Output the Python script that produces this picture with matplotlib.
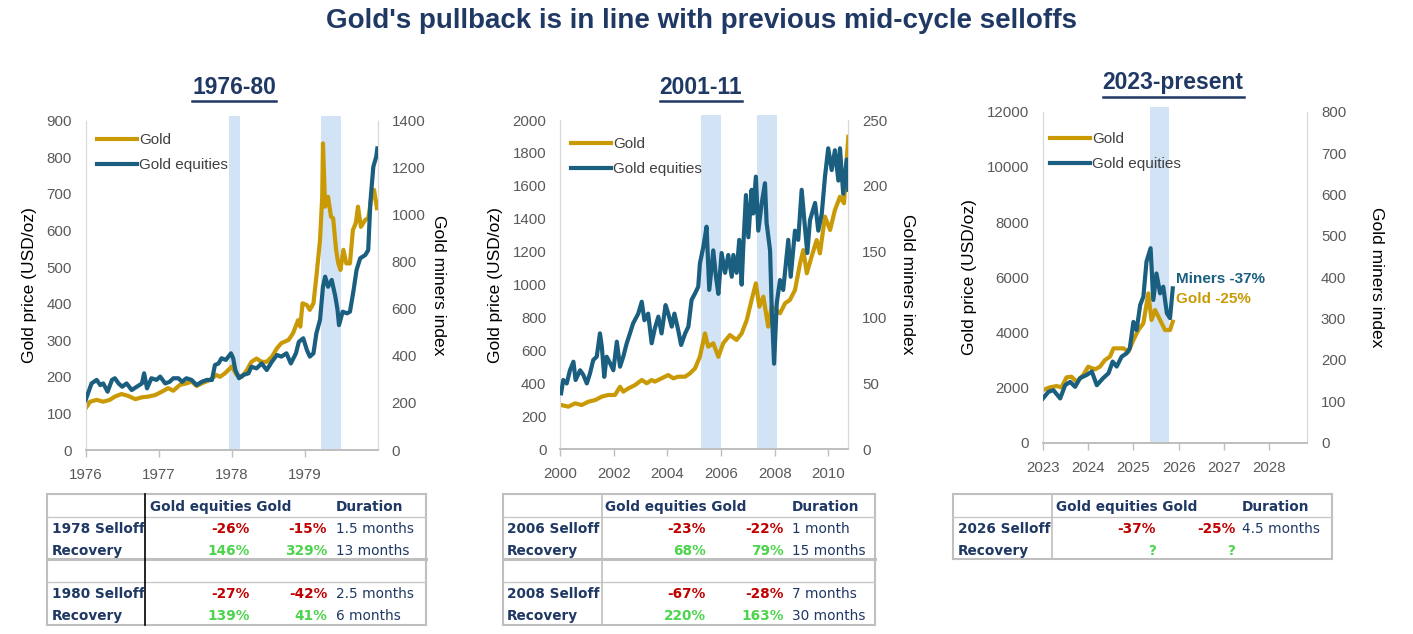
import matplotlib
matplotlib.use("Agg")
import matplotlib.pyplot as plt
from matplotlib.lines import Line2D

# ---------------- data ----------------
left_gold = [(1976.00,114),(1976.06,132),(1976.15,137),(1976.24,132),(1976.33,137),(1976.40,146),
             (1976.49,153),(1976.58,148),(1976.68,139),(1976.77,144),(1976.86,146),(1976.95,150),
             (1977.04,159),(1977.13,169),(1977.20,162),(1977.29,178),(1977.38,182),(1977.45,187),
             (1977.52,175),(1977.61,184),(1977.70,191),(1977.79,205),(1977.84,200),(1977.91,210),
             (1978.00,228),(1978.07,205),(1978.14,200),(1978.21,219),(1978.27,241),(1978.34,250),
             (1978.41,241),(1978.48,241),(1978.55,255),(1978.62,278),(1978.68,292),(1978.78,301),
             (1978.84,319),(1978.91,355),(1978.94,337),(1978.97,401),(1979.03,396),(1979.07,383),
             (1979.12,401),(1979.16,474),(1979.21,574),(1979.24,692),(1979.25,838),(1979.28,665),
             (1979.32,692),(1979.36,638),(1979.39,633),(1979.43,547),(1979.46,510),(1979.49,492),
             (1979.53,547),(1979.57,510),(1979.62,510),(1979.66,601),(1979.70,620),(1979.73,665),
             (1979.77,610),(1979.83,629),(1979.87,633),(1979.92,697),(1979.95,711),(1979.99,661)]
left_eq = [(1976.00,213),(1976.04,248),(1976.08,283),(1976.15,298),(1976.20,276),(1976.24,283),
           (1976.30,248),(1976.36,298),(1976.40,305),(1976.45,283),(1976.50,269),(1976.56,283),
           (1976.63,255),(1976.70,269),(1976.77,283),(1976.80,326),(1976.84,262),(1976.90,305),
           (1976.97,298),(1977.02,312),(1977.09,283),(1977.15,290),(1977.20,305),(1977.27,305),
           (1977.32,290),(1977.38,305),(1977.45,298),(1977.52,276),(1977.59,290),(1977.66,298),
           (1977.73,298),(1977.77,361),(1977.82,368),(1977.86,390),(1977.92,383),(1977.99,411),
           (1978.02,390),(1978.05,340),(1978.10,305),(1978.16,319),(1978.23,326),(1978.27,354),
           (1978.34,347),(1978.41,368),(1978.48,340),(1978.55,375),(1978.62,404),(1978.68,397),
           (1978.75,411),(1978.81,368),(1978.88,411),(1978.92,460),(1978.98,475),(1979.03,425),
           (1979.07,397),(1979.12,411),(1979.16,496),(1979.21,553),(1979.25,694),(1979.28,737),
           (1979.32,694),(1979.37,723),(1979.42,652),(1979.45,595),(1979.47,531),(1979.52,588),
           (1979.58,581),(1979.62,588),(1979.67,680),(1979.71,765),(1979.76,815),(1979.83,829),
           (1979.87,850),(1979.90,1055),(1979.94,1204),(1979.98,1247),(1979.995,1282)]

mid_gold = [(2000.03,269),(2000.30,259),(2000.55,279),(2000.80,269),(2001.05,289),(2001.30,299),
            (2001.55,320),(2001.79,330),(2002.04,330),(2002.23,380),(2002.35,350),(2002.54,370),
            (2002.79,390),(2003.04,421),(2003.23,401),(2003.41,421),(2003.53,411),(2003.78,431),
            (2004.03,451),(2004.22,431),(2004.40,441),(2004.66,441),(2004.84,461),(2005.03,492),
            (2005.21,562),(2005.40,704),(2005.52,623),(2005.71,644),(2005.90,562),(2006.08,644),
            (2006.33,694),(2006.58,664),(2006.77,704),(2006.96,785),(2007.14,907),(2007.30,1008),
            (2007.43,866),(2007.58,927),(2007.70,805),(2007.76,745),(2007.89,866),(2008.20,826),
            (2008.39,887),(2008.57,907),(2008.76,967),(2008.95,1130),(2009.07,1210),(2009.20,1069),
            (2009.38,1170),(2009.57,1271),(2009.69,1190),(2009.88,1413),(2010.07,1332),(2010.25,1453),
            (2010.44,1534),(2010.59,1494),(2010.69,1757),(2010.75,1898)]
mid_eq = [(2000.03,42.5),(2000.11,52.6),(2000.24,50.0),(2000.36,60.0),(2000.49,66.5),(2000.57,52.6),
          (2000.74,60.0),(2000.86,56.4),(2000.99,50.0),(2001.11,57.7),(2001.23,67.8),(2001.36,70.3),
          (2001.48,88.0),(2001.55,78.0),(2001.64,55.0),(2001.73,70.3),(2001.86,65.3),(2001.98,60.0),
          (2002.11,81.7),(2002.23,62.7),(2002.35,70.3),(2002.48,80.5),(2002.60,88.0),(2002.72,95.7),
          (2002.91,103.0),(2003.04,112.0),(2003.14,98.0),(2003.28,103.0),(2003.41,80.5),(2003.53,91.9),
          (2003.66,100.7),(2003.78,88.0),(2003.93,109.5),(2004.03,103.0),(2004.16,93.1),(2004.26,103.0),
          (2004.40,90.6),(2004.51,79.2),(2004.66,88.0),(2004.78,93.1),(2004.90,113.4),(2005.03,118.4),
          (2005.15,123.5),(2005.21,141.0),(2005.34,153.8),(2005.46,169.0),(2005.56,121.0),(2005.71,151.0),
          (2005.81,131.0),(2005.90,118.0),(2006.02,149.0),(2006.15,134.0),(2006.27,147.5),(2006.40,131.0),
          (2006.46,147.5),(2006.58,134.0),(2006.68,159.0),(2006.77,125.0),(2006.83,154.0),(2006.93,193.0),
          (2007.02,161.0),(2007.14,197.0),(2007.20,179.0),(2007.30,207.0),(2007.39,166.0),(2007.52,187.0),
          (2007.64,202.0),(2007.70,172.0),(2007.83,151.0),(2007.89,108.0),(2007.98,65.0),(2008.08,111.0),
          (2008.20,128.5),(2008.32,121.0),(2008.51,159.0),(2008.60,131.0),(2008.76,166.0),(2008.88,159.0),
          (2009.01,197.0),(2009.13,169.0),(2009.22,149.0),(2009.32,174.0),(2009.51,187.0),(2009.63,166.0),
          (2009.76,179.0),(2009.88,207.0),(2010.00,228.5),(2010.13,212.0),(2010.25,227.0),(2010.38,204.0),
          (2010.44,228.5),(2010.56,194.0),(2010.69,220.0),(2010.75,197.0)]

right_gold = [(2023.00,1909),(2023.15,2006),(2023.30,2054),(2023.41,2006),(2023.52,2369),(2023.63,2393),
              (2023.74,2211),(2023.89,2453),(2024.00,2755),(2024.15,2659),(2024.26,2755),(2024.37,2997),
              (2024.48,3118),(2024.56,3420),(2024.67,3420),(2024.78,3420),(2024.89,3299),(2025.00,3722),
              (2025.11,4085),(2025.22,4326),(2025.33,5414),(2025.40,4447),(2025.48,4810),(2025.59,4447),
              (2025.70,4085),(2025.81,4085),(2025.87,4387)]
right_eq = [(2023.00,107),(2023.12,123),(2023.23,127),(2023.38,107),(2023.49,139),(2023.60,147),
            (2023.71,135),(2023.82,156),(2023.97,164),(2024.08,172),(2024.19,139),(2024.33,156),
            (2024.45,168),(2024.54,196),(2024.63,184),(2024.74,208),(2024.85,216),(2024.92,228),
            (2025.00,292),(2025.07,272),(2025.15,333),(2025.22,353),(2025.29,438),(2025.38,470),
            (2025.44,345),(2025.51,409),(2025.59,361),(2025.66,377),(2025.74,313),(2025.81,301),
            (2025.87,373)]

left_shades = [(1977.96, 1978.12), (1979.23, 1979.50)]
mid_shades = [(2005.25, 2005.98), (2007.35, 2008.07)]
right_shades = [(2025.37, 2025.78)]

left_xticks = [1976, 1977, 1978, 1979]
mid_xticks = [2000, 2002, 2004, 2006, 2008, 2010]
right_xticks = [2023, 2024, 2025, 2026, 2027, 2028]
left_yticks = list(range(0, 901, 100)); left_y2ticks = list(range(0, 1401, 200))
mid_yticks = list(range(0, 2001, 200)); mid_y2ticks = list(range(0, 251, 50))
right_yticks = list(range(0, 12001, 2000)); right_y2ticks = list(range(0, 801, 100))

panel_titles = ["1976-80", "2001-11", "2023-present"]
main_title = "Gold's pullback is in line with previous mid-cycle selloffs"

table_header = ["Gold equities Gold", "Duration"]
left_rows = [("1978 Selloff", "-26%", "-15%", "1.5 months"),
             ("Recovery", "146%", "329%", "13 months"),
             None,
             ("1980 Selloff", "-27%", "-42%", "2.5 months"),
             ("Recovery", "139%", "41%", "6 months")]
mid_rows = [("2006 Selloff", "-23%", "-22%", "1 month"),
            ("Recovery", "68%", "79%", "15 months"),
            None,
            ("2008 Selloff", "-67%", "-28%", "7 months"),
            ("Recovery", "220%", "163%", "30 months")]
right_rows = [("2026 Selloff", "-37%", "-25%", "4.5 months"),
              ("Recovery", "?", "?", "")]
right_notes = [("Miners -37%", 2025.95, 5930, "eq"), ("Gold -25%", 2025.95, 5210, "gold")]

# ---------------- style ----------------
GOLD = "#C99A06"
TEAL = "#1A5E80"
NAVY = "#1F3864"
SHADE = "#D2E3F5"
TICKC = "#595959"
RED = "#C00000"
GREEN = "#4CD44C"

W, H = 1413, 634
plt.rcParams["font.family"] = ["Liberation Sans", "DejaVu Sans"]
fig = plt.figure(figsize=(W / 100, H / 100), dpi=100)


def fx(x):
    return x / W


def fy(y):
    return 1 - y / H


def unpack(pairs):
    return [p[0] for p in pairs], [p[1] for p in pairs]


panels = [
    dict(rect=(85.7, 120.7, 377.7, 450.0), xlim=(1976, 1980), ylim=900, y2lim=1400,
         gold=left_gold, eq=left_eq, shades=left_shades, xt=left_xticks, yt=left_yticks, y2t=left_y2ticks,
         leg=(97, 133), rpad=15),
    dict(rect=(560.3, 120.0, 848.3, 449.3), xlim=(2000, 2010.75), ylim=2000, y2lim=250,
         gold=mid_gold, eq=mid_eq, shades=mid_shades, xt=mid_xticks, yt=mid_yticks, y2t=mid_y2ticks,
         leg=(571, 137), rpad=20),
    dict(rect=(1043.0, 111.7, 1307.0, 442.7), xlim=(2023, 2028.84), ylim=12000, y2lim=800,
         gold=right_gold, eq=right_eq, shades=right_shades, xt=right_xticks, yt=right_yticks, y2t=right_y2ticks,
         leg=(1050, 132), rpad=27),
]

axes = []
for p in panels:
    l, t, r, b = p["rect"]
    ax = fig.add_axes([fx(l), fy(b), (r - l) / W, (b - t) / H])
    ax2 = ax.twinx()
    ax.set_xlim(*p["xlim"])
    ax.set_ylim(0, p["ylim"])
    ax2.set_ylim(0, p["y2lim"])
    for s0, s1 in p["shades"]:
        ax.axvspan(s0, s1, ymin=0, ymax=1.015, color=SHADE, lw=0, zorder=0, clip_on=False)
    gx, gy = unpack(p["gold"])
    ex, ey = unpack(p["eq"])
    lg, = ax.plot(gx, gy, color=GOLD, lw=3, solid_joinstyle="round", zorder=3, label="Gold")
    le, = ax2.plot(ex, ey, color=TEAL, lw=3, solid_joinstyle="round", zorder=3, label="Gold equities")
    ax.set_xticks(p["xt"])
    ax.set_xticklabels([str(v) for v in p["xt"]])
    ax.set_yticks(p["yt"])
    ax2.set_yticks(p["y2t"])
    for a in (ax, ax2):
        a.spines["top"].set_visible(False)
        a.spines["left"].set_color("#D9D9D9")
        a.spines["right"].set_color("#D9D9D9")
        a.spines["bottom"].set_color("#BFBFBF")
        a.spines["bottom"].set_linewidth(1.3)
        a.tick_params(axis="y", length=0, labelsize=10.8, labelcolor=TICKC, pad=10)
    ax.tick_params(axis="x", length=5, width=1, color="#BFBFBF", labelsize=10.8, labelcolor=TICKC, pad=8)
    ax.set_ylabel("Gold price (USD/oz)", fontsize=12.5, color="black", labelpad=7)
    ax2.set_ylabel("Gold miners index", fontsize=12.5, color="black", rotation=270, labelpad=p["rpad"])
    hx, hy = p["leg"]
    leg = ax2.legend(handles=[lg, le], loc="upper left", frameon=False, fontsize=11,
                     bbox_to_anchor=((hx - l) / (r - l), 1 - (hy - t) / (b - t)),
                     borderpad=0, borderaxespad=0, handlelength=2.6, handletextpad=0.15,
                     labelspacing=0.75)
    leg.set_zorder(10)
    for txt in leg.get_texts():
        txt.set_color("#404040")
    axes.append((ax, ax2))

# right chart annotations
rax = axes[2][0]
for txt, xv, yv, kind in right_notes:
    rax.text(xv, yv, txt, color=TEAL if kind == "eq" else GOLD, fontsize=11, fontweight="bold",
             va="center", ha="left", zorder=6)

# titles
fig.text(fx(701), fy(21), main_title, ha="center", va="center", fontsize=20, fontweight="bold", color=NAVY)
sub_pos = [(234, 87), (701, 87), (1173, 83)]
renderer = fig.canvas.get_renderer()
for (sx, sy), s in zip(sub_pos, panel_titles):
    tt = fig.text(fx(sx), fy(sy), s, ha="center", va="center", fontsize=16.5, fontweight="bold", color=NAVY)
    bb = tt.get_window_extent(renderer=renderer)
    yline = bb.y0 - 2
    fig.add_artist(Line2D([bb.x0 / W, bb.x1 / W], [yline / H, yline / H], color=NAVY, lw=1.8))

# ---------------- tables ----------------
TFONT = ["DejaVu Sans"]
tables = [
    dict(rows=left_rows, x0=47, x1=426, xsep=145, sepc="black", lab=52, hdr=150, ge=250, gd=327, dur=336,
         top=494, bottom=625, lines=[(517, 1.0), (559, 2.2), (582, 1.0)], ys=[529, 551, 570, 594, 616]),
    dict(rows=mid_rows, x0=503, x1=875, xsep=602, sepc="#BFBFBF", lab=507, hdr=605, ge=706, gd=784, dur=792,
         top=494, bottom=625, lines=[(517, 1.0), (559, 2.2), (582, 1.0)], ys=[529, 551, 570, 594, 616]),
    dict(rows=right_rows, x0=953, x1=1332, xsep=1052, sepc="#BFBFBF", lab=958, hdr=1056, ge=1156, gd=1235, dur=1242,
         top=494, bottom=559, lines=[(517, 1.0)], ys=[529, 551]),
]


def hline(x0, x1, y, lw, c):
    fig.add_artist(Line2D([fx(x0), fx(x1)], [fy(y), fy(y)], color=c, lw=lw))


def vline(x, y0, y1, lw, c):
    fig.add_artist(Line2D([fx(x), fx(x)], [fy(y0), fy(y1)], color=c, lw=lw))


TS = 9.8
for tb in tables:
    x0, x1 = tb["x0"], tb["x1"]
    hline(x0, x1, tb["top"], 1.5, "#BFBFBF")
    hline(x0, x1, tb["bottom"], 1.5, "#BFBFBF")
    vline(x0, tb["top"], tb["bottom"], 1.5, "#BFBFBF")
    vline(x1, tb["top"], tb["bottom"], 1.5, "#BFBFBF")
    for y, lw in tb["lines"]:
        hline(x0, x1, y, lw, "#C8C8C8" if lw < 2 else "#BFBFBF")
    vline(tb["xsep"], tb["top"], tb["bottom"], 1.2, tb["sepc"])
    fig.text(fx(tb["hdr"]), fy(507), table_header[0], ha="left", va="center", fontsize=TS,
             fontweight="bold", color=NAVY, family=TFONT)
    fig.text(fx(tb["dur"]), fy(507), table_header[1], ha="left", va="center", fontsize=TS,
             fontweight="bold", color=NAVY, family=TFONT)
    for row, y in zip(tb["rows"], tb["ys"]):
        if row is None:
            continue
        lab, ge, gd, dur = row
        sell = ge.startswith("-")
        vc = RED if sell else GREEN
        fig.text(fx(tb["lab"]), fy(y), lab, ha="left", va="center", fontsize=TS, fontweight="bold",
                 color=NAVY, family=TFONT)
        fig.text(fx(tb["ge"]), fy(y), ge, ha="right", va="center", fontsize=TS, fontweight="bold",
                 color=vc, family=TFONT)
        fig.text(fx(tb["gd"]), fy(y), gd, ha="right", va="center", fontsize=TS, fontweight="bold",
                 color=vc, family=TFONT)
        if dur:
            fig.text(fx(tb["dur"]), fy(y), dur, ha="left", va="center", fontsize=TS,
                     color=NAVY, family=TFONT)

fig.savefig("out.png", dpi=100)
